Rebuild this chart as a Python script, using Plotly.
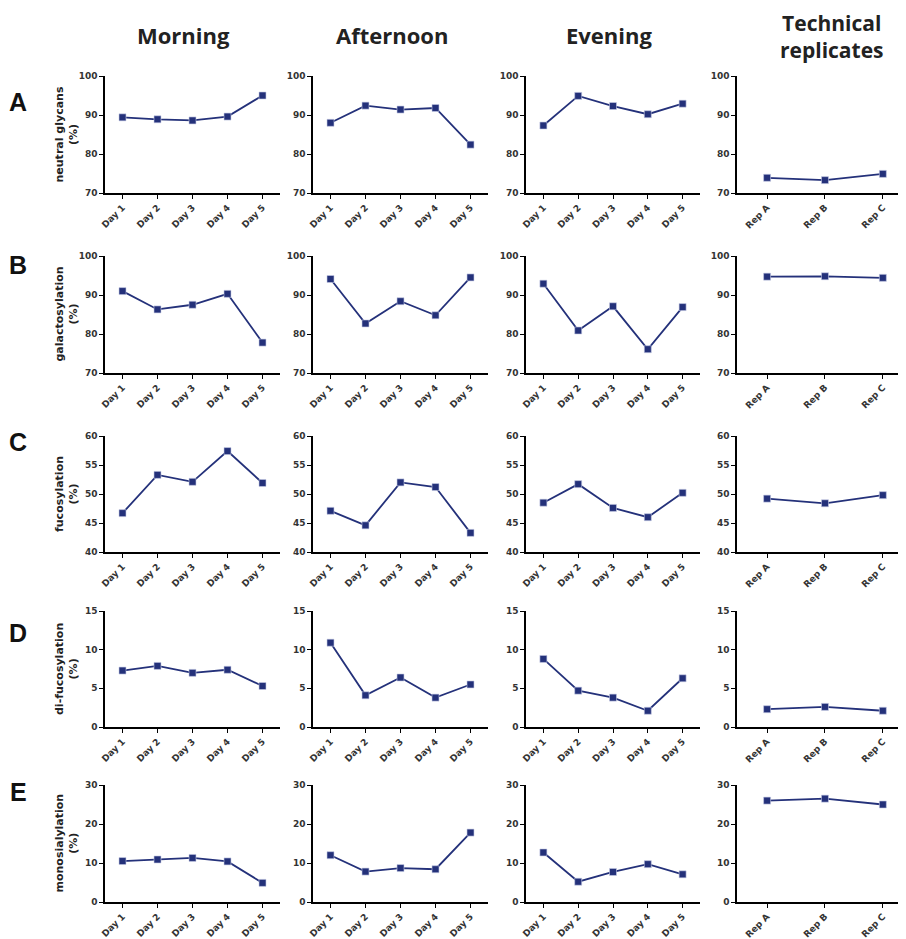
import plotly.graph_objects as go

# ---------------- data ----------------
days = ["Day 1", "Day 2", "Day 3", "Day 4", "Day 5"]
reps = ["Rep A", "Rep B", "Rep C"]
column_titles = ["Morning", "Afternoon", "Evening", "Technical<br>replicates"]
row_letters = ["A", "B", "C", "D", "E"]
row_measures = ["neutral glycans<br>(%)", "galactosylation<br>(%)", "fucosylation<br>(%)",
                "di-fucosylation<br>(%)", "monosialylation<br>(%)"]

# A: neutral glycans
neutral_morning = [89.4, 88.9, 88.6, 89.6, 95.0]
neutral_afternoon = [88.0, 92.4, 91.4, 91.8, 82.4]
neutral_evening = [87.3, 94.9, 92.3, 90.2, 92.9]
neutral_reps = [73.9, 73.3, 74.9]

# B: galactosylation
galac_morning = [91.0, 86.3, 87.5, 90.3, 77.8]
galac_afternoon = [94.1, 82.7, 88.4, 84.8, 94.5]
galac_evening = [92.9, 80.9, 87.1, 76.1, 86.9]
galac_reps = [94.7, 94.8, 94.4]

# C: fucosylation
fuco_morning = [46.7, 53.3, 52.1, 57.4, 51.9]
fuco_afternoon = [47.1, 44.6, 52.0, 51.2, 43.3]
fuco_evening = [48.5, 51.7, 47.6, 46.0, 50.2]
fuco_reps = [49.2, 48.4, 49.8]

# D: di-fucosylation
difuco_morning = [7.3, 7.9, 7.0, 7.4, 5.3]
difuco_afternoon = [10.9, 4.1, 6.4, 3.8, 5.5]
difuco_evening = [8.8, 4.7, 3.8, 2.1, 6.3]
difuco_reps = [2.3, 2.6, 2.1]

# E: monosialylation
mono_morning = [10.5, 10.9, 11.3, 10.4, 4.9]
mono_afternoon = [12.0, 7.8, 8.7, 8.4, 17.8]
mono_evening = [12.7, 5.2, 7.7, 9.7, 7.1]
mono_reps = [26.0, 26.5, 25.0]

y_ranges = [[70, 100], [70, 100], [40, 60], [0, 15], [0, 30]]
y_dticks = [10, 10, 5, 5, 10]

grid = [
    [neutral_morning, neutral_afternoon, neutral_evening, neutral_reps],
    [galac_morning, galac_afternoon, galac_evening, galac_reps],
    [fuco_morning, fuco_afternoon, fuco_evening, fuco_reps],
    [difuco_morning, difuco_afternoon, difuco_evening, difuco_reps],
    [mono_morning, mono_afternoon, mono_evening, mono_reps],
]

# ---------------- layout geometry (page pixels) ----------------
PAGE_W, PAGE_H = 906, 939
OFF = 8  # page body margin
W, H = PAGE_W - OFF, PAGE_H - OFF


def px_x(p):
    return (p - OFF) / W


def px_y(p):
    return 1 - (p - OFF) / H


col_px = [(105, 280), (313, 488), (526, 700), (737, 906)]
row_px = [(76, 193), (256, 373), (436, 552), (611, 727), (785, 902)]

LINE_COLOR = "#24317a"
TICK_FONT = dict(family="DejaVu Sans", size=9, color="#333333", weight="bold")

fig = go.Figure()
layout = {}
n = 0
for r in range(5):
    for c in range(4):
        n += 1
        xs = reps if c == 3 else days
        xa = "x" if n == 1 else f"x{n}"
        ya = "y" if n == 1 else f"y{n}"
        fig.add_trace(go.Scatter(
            x=xs, y=grid[r][c], xaxis=xa, yaxis=ya, mode="lines+markers",
            line=dict(color=LINE_COLOR, width=1.8),
            marker=dict(symbol="square", size=7, color=LINE_COLOR,
                        line=dict(width=0.6, color="#c8cce6")),
            showlegend=False, cliponaxis=False,
        ))
        x0, x1 = col_px[c]
        y0, y1 = row_px[r]
        xrange = [-0.52, 2.4] if c == 3 else [-0.5, 4.5]
        xkey = "xaxis" if n == 1 else f"xaxis{n}"
        ykey = "yaxis" if n == 1 else f"yaxis{n}"
        layout[xkey] = dict(
            domain=[px_x(x0), min(1.0, px_x(x1))], anchor=ya, type="category",
            categoryorder="array", categoryarray=xs, range=xrange,
            showline=True, linecolor="black", linewidth=1.5,
            ticks="outside", ticklen=4, tickwidth=1.2, tickcolor="black",
            tickangle=-45, tickfont=TICK_FONT, showgrid=False, zeroline=False,
            fixedrange=True, automargin=False,
        )
        layout[ykey] = dict(
            domain=[px_y(y1), px_y(y0)], anchor=xa,
            range=y_ranges[r], dtick=y_dticks[r], tick0=0,
            showline=True, linecolor="black", linewidth=1.5,
            ticks="outside", ticklen=4, tickwidth=1.2, tickcolor="black",
            tickfont=TICK_FONT, showgrid=False, zeroline=False, fixedrange=True,
            automargin=False,
        )

annotations = []
title_x = [183, 392, 609, 832]
title_y = [35, 35, 35, 36]
title_size = [22, 22, 22, 21]
for c in range(4):
    annotations.append(dict(
        text=column_titles[c], x=px_x(title_x[c]), y=px_y(title_y[c]), xref="paper", yref="paper",
        xanchor="center", yanchor="middle", showarrow=False, borderpad=0,
        font=dict(family="Open Sans", size=title_size[c], color="#222222", weight="bold"),
    ))
letter_y = [102, 265, 442, 633, 792]
for r in range(5):
    annotations.append(dict(
        text=row_letters[r], x=px_x(18), y=px_y(letter_y[r]), xref="paper", yref="paper",
        xanchor="center", yanchor="middle", showarrow=False,
        font=dict(family="Liberation Sans, Arial", size=25, color="#111111", weight="bold"),
    ))
    yc = (row_px[r][0] + row_px[r][1]) / 2
    annotations.append(dict(
        text=row_measures[r], x=px_x(66), y=px_y(yc), xref="paper", yref="paper",
        xanchor="center", yanchor="middle", showarrow=False, textangle=-90,
        font=dict(family="DejaVu Sans", size=11, color="#222222", weight="bold"),
    ))

fig.update_layout(
    width=W, height=H, margin=dict(l=0, r=0, t=0, b=0),
    paper_bgcolor="white", plot_bgcolor="white",
    annotations=annotations, **layout,
)

fig.write_html("out.html")
